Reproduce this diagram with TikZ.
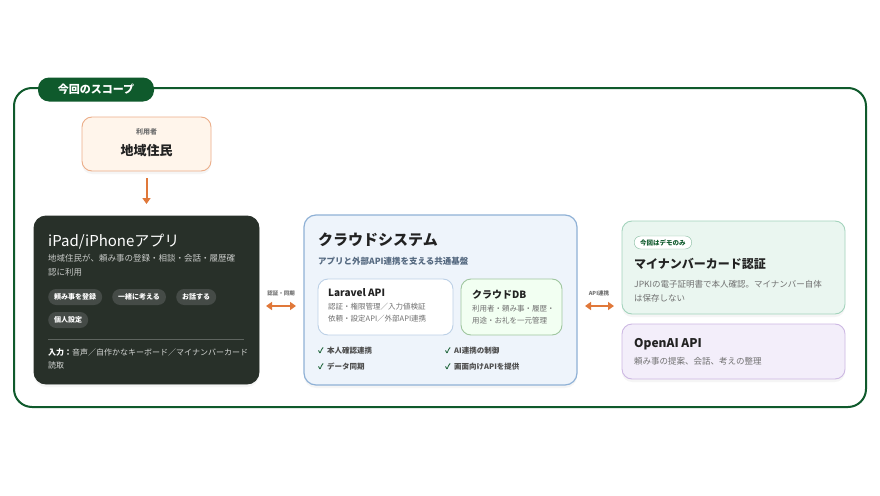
\documentclass[tikz,border=0pt]{standalone}
\usepackage{fontspec}
\setmainfont{Noto Sans CJK JP}
\usetikzlibrary{arrows.meta,shadows}
\definecolor{dg}{HTML}{0F5A2C}
\definecolor{org}{HTML}{E0783A}
\definecolor{appbg}{HTML}{283029}
\definecolor{pill}{HTML}{454B47}
\definecolor{cloudbg}{HTML}{EEF4FB}
\definecolor{cloudbd}{HTML}{8FB1D6}
\definecolor{txt}{HTML}{222222}
\definecolor{gr}{HTML}{707070}
\definecolor{mint}{HTML}{EAF6F0}
\definecolor{mintbd}{HTML}{A3D3BC}
\definecolor{lav}{HTML}{F3EEFA}
\definecolor{lavbd}{HTML}{CDB8E3}
\begin{document}
\begin{tikzpicture}[x=1pt,y=-1pt,
  box/.style={rounded corners=10pt,line width=0.9pt},
  sh/.style={drop shadow={opacity=0.08,shadow xshift=0pt,shadow yshift=-3pt}},
  t/.style={anchor=west,inner sep=0pt,font=\fontsize{#1}{#1}\selectfont},
  tb/.style={anchor=west,inner sep=0pt,font=\fontsize{#1}{#1}\selectfont\bfseries},
  pl/.style={fill=pill,rounded corners=8pt,text=white,font=\fontsize{7}{7}\selectfont\bfseries,inner xsep=6pt,minimum height=16pt,anchor=west},
  arr/.style={org,line width=2pt,-{Triangle[length=6pt,width=8pt]}},
  darr/.style={org,line width=2.2pt,{Triangle[length=6pt,width=8pt]}-{Triangle[length=6pt,width=8pt]}},
  lab/.style={inner sep=0pt,font=\fontsize{5.5}{5.5}\selectfont\bfseries,text=gr},
  chk/.style={anchor=west,inner sep=0pt,font=\fontsize{7.5}{7.5}\selectfont\bfseries,text=txt!80}]
\useasboundingbox (0,0) rectangle (880,495);
\fill[white] (0,0) rectangle (880,495);
% outer frame
\draw[dg,line width=2pt,rounded corners=18pt] (14,88) rectangle (866,407);
\node[fill=dg,rounded corners=11pt,text=white,minimum width=116pt,minimum height=24pt,inner sep=0pt,font=\fontsize{11}{11}\selectfont\bfseries] (tag) at (96,89.5) {今回のスコープ};
% user
\path[box,sh,fill=orange!8,draw=org!60] (82,117) rectangle (211,171);
\node[lab,font=\fontsize{7}{7}\selectfont\bfseries] (ul) at (146.5,132) {利用者};
\node[inner sep=0pt,font=\fontsize{13}{13}\selectfont\bfseries,text=txt] (user) at (146.5,151) {地域住民};
\coordinate (uA) at (146.5,178);
\coordinate (uB) at (146.5,204);
\draw[arr] (uA) -- (uB);
% app
\path[box,sh,fill=appbg,draw=appbg,rounded corners=12pt] (34,216) rectangle (259,384);
\node[t=15,text=white] (apt) at (48,242) {iPad/iPhoneアプリ};
\node[t=8.5,text=white!75!appbg] (apd1) at (48,258) {地域住民が、頼み事の登録・相談・会話・履歴確};
\node[t=8.5,text=white!75!appbg] (apd2) at (48,272) {認に利用};
\node[pl] (p1) at (48,297) {頼み事を登録};
\node[pl] (p2) at (112,297) {一緒に考える};
\node[pl] (p3) at (176,297) {お話する};
\node[pl] (p4) at (48,320) {個人設定};
\coordinate (s1) at (48,339); \coordinate (s2) at (244,339);
\draw[white!25!appbg,line width=0.6pt] (s1) -- (s2);
\node[t=8,text=white!80!appbg] (in1) at (48,352) {\textbf{\textcolor{white}{入力：}}音声／自作かなキーボード／マイナンバーカード};
\node[t=8,text=white!80!appbg] (in2) at (48,365) {読取};
% arrow 1
\node[lab] (l1) at (281,293) {認証・同期};
\coordinate (a1) at (266,306); \coordinate (a2) at (296,306);
\draw[darr] (a1) -- (a2);
% cloud
\path[box,sh,fill=cloudbg,draw=cloudbd,line width=1.2pt,rounded corners=12pt] (304,215) rectangle (577,385);
\node[t=15,text=txt,font=\fontsize{15}{15}\selectfont\bfseries] (ct) at (318,240) {クラウドシステム};
\node[tb=8.5,text=cloudbd!60!black] (cs) at (318,261) {アプリと外部API連携を支える共通基盤};
\path[box,fill=white,draw=cloudbd!60] (318,279) rectangle (453,335);
\node[tb=10,text=txt] (lv) at (328,293) {Laravel API};
\node[t=7.5,text=gr] (lv1) at (328,307) {認証・権限管理／入力値検証};
\node[t=7.5,text=gr] (lv2) at (328,319) {依頼・設定API／外部API連携};
\path[box,fill=green!5!white,draw=green!25!gray!60] (461,279) rectangle (562,335);
\node[tb=10,text=txt] (db) at (472,295) {クラウドDB};
\node[t=7.5,text=gr] (db1) at (472,309) {利用者・頼み事・履歴・};
\node[t=7.5,text=gr] (db2) at (472,321) {用途・お礼を一元管理};
\node[chk] (c1) at (318,351) {\textcolor{dg}{✓}\ \ 本人確認連携};
\node[chk] (c2) at (318,367) {\textcolor{dg}{✓}\ \ データ同期};
\node[chk] (c3) at (445,351) {\textcolor{dg}{✓}\ \ AI連携の制御};
\node[chk] (c4) at (445,367) {\textcolor{dg}{✓}\ \ 画面向けAPIを提供};
% arrow 2
\node[lab] (l2) at (599,293) {API連携};
\coordinate (b1) at (585,306); \coordinate (b2) at (614,306);
\draw[darr] (b1) -- (b2);
% myna
\path[box,sh,fill=mint,draw=mintbd] (622,221) rectangle (845,314);
\node[draw=mintbd!80!dg,fill=white,rounded corners=6.5pt,minimum height=13pt,inner xsep=6pt,inner ysep=0pt,anchor=west,text=dg,font=\fontsize{6.5}{6.5}\selectfont\bfseries] (demo) at (634,242.5) {今回はデモのみ};
\node[tb=12,text=txt] (mt) at (634,264) {マイナンバーカード認証};
\node[t=8.5,text=gr] (md1) at (634,284) {JPKIの電子証明書で本人確認。マイナンバー自体};
\node[t=8.5,text=gr] (md2) at (634,298) {は保存しない};
% openai
\path[box,sh,fill=lav,draw=lavbd] (622,324) rectangle (845,379);
\node[tb=12,text=txt] (ot) at (634,344) {OpenAI API};
\node[t=8.5,text=gr] (od) at (634,361) {頼み事の提案、会話、考えの整理};
\end{tikzpicture}
\end{document}
